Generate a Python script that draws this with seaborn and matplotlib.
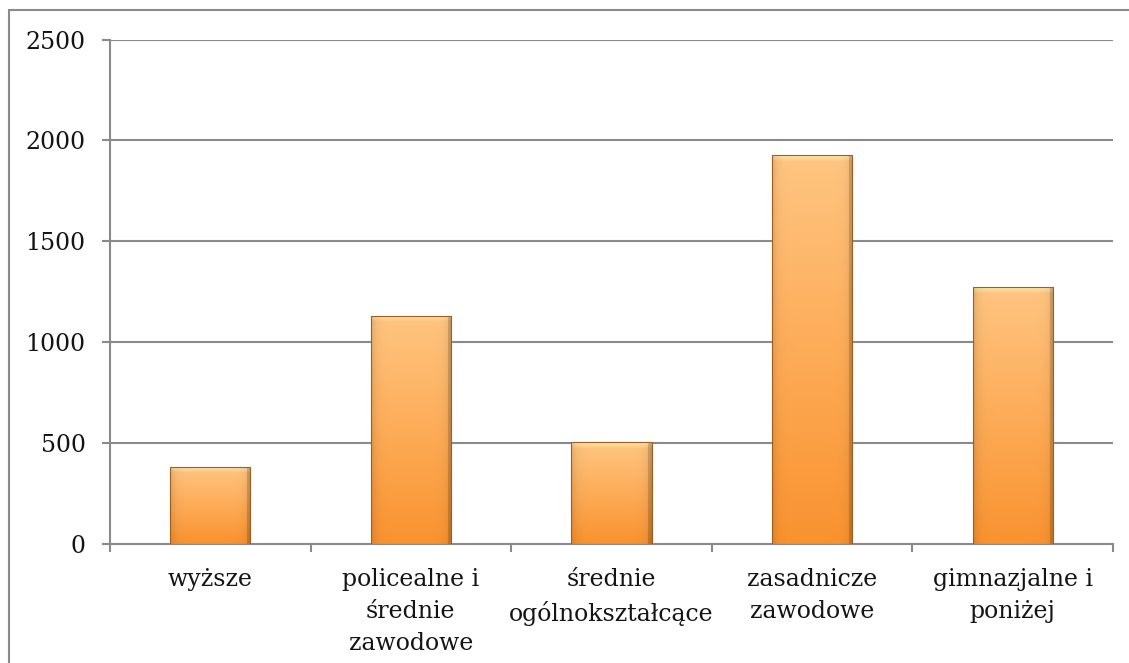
import matplotlib

matplotlib.use("Agg")

import matplotlib.pyplot as plt
import numpy as np
import pandas as pd
import seaborn as sns
from matplotlib.colors import LinearSegmentedColormap, to_rgb
from matplotlib.lines import Line2D

categories = [
    "wyższe",
    "policealne i\nśrednie\nzawodowe",
    "średnie\nogólnokształcące",
    "zasadnicze\nzawodowe",
    "gimnazjalne i\nponiżej",
]
values = [382, 1132, 503, 1927, 1272]
y_ticks = [0, 500, 1000, 1500, 2000, 2500]

GRID = "#8a8a8a"
TEXT = "#141414"

sns.set_theme(style="white")
plt.rcParams["font.family"] = ["DejaVu Serif"]

df = pd.DataFrame({"kategoria": categories, "liczba": values})

fig = plt.figure(figsize=(11.29, 6.63), dpi=100)
ax = fig.add_axes([0.0974, 0.1795, 0.8884, 0.7609])

sns.barplot(
    data=df,
    x="kategoria",
    y="liczba",
    color="#fba24a",
    width=0.4,
    edgecolor="#a35e1f",
    linewidth=0.8,
    ax=ax,
    zorder=3,
)

ax.set_xlim(-0.5, len(categories) - 0.5)
ax.set_ylim(0, 2500)

# orange vertical gradient inside each bar, light bevel at the top
cmap = LinearSegmentedColormap.from_list("bar", ["#f9922f", "#fdac58", "#ffc581"])
bevel = np.array(to_rgb("#fff0b4"))
px_per_unit = ax.bbox.height / 2500
cols = np.linspace(-1, 1, 80)
side = 1 - 0.12 * np.abs(cols) ** 8
side[-4:] *= 0.85
for patch in ax.patches:
    x0, y0 = patch.get_x(), patch.get_y()
    w, h = patch.get_width(), patch.get_height()
    rows = max(int(h * px_per_unit), 2)
    t = np.linspace(0, 1, rows)
    img = cmap(t)[:, :3]
    n_bev = min(7, rows)
    mix = np.linspace(0, 0.75, n_bev)[:, None]
    img[-n_bev:] = img[-n_bev:] * (1 - mix) + bevel * mix
    img = img[:, None, :] * side[None, :, None]
    im = ax.imshow(
        np.clip(img, 0, 1),
        extent=[x0, x0 + w, y0, y0 + h],
        origin="lower",
        aspect="auto",
        interpolation="bilinear",
        zorder=3.5,
    )
    im.set_clip_path(patch)
    patch.set_facecolor("none")
    patch.set_zorder(4)

ax.set_xlim(-0.5, len(categories) - 0.5)
ax.set_ylim(0, 2500)
ax.set_yticks(y_ticks)
ax.set_xlabel("")
ax.set_ylabel("")

for y in y_ticks[1:]:
    ax.axhline(y, color=GRID, linewidth=1.5, zorder=1)

for side_name in ["top", "right"]:
    ax.spines[side_name].set_visible(False)
for side_name in ["left", "bottom"]:
    ax.spines[side_name].set_color(GRID)
    ax.spines[side_name].set_linewidth(1.5)

ax.tick_params(axis="y", which="major", direction="out", length=5.5, width=1.5,
               color=GRID, labelsize=17, labelcolor=TEXT, pad=12, left=True)
ax.tick_params(axis="x", which="major", length=0, labelsize=17,
               labelcolor=TEXT, pad=17)
ax.set_xticks(np.arange(-0.5, len(categories)), minor=True)
ax.tick_params(axis="x", which="minor", direction="out", length=5.5,
               width=1.5, color=GRID, bottom=True)
for label in ax.get_xticklabels():
    label.set_linespacing(1.5)
    label.set_verticalalignment("top")

# outer chart border (top and left edges visible)
fig.add_artist(Line2D([0.0084, 1.0], [0.985, 0.985], transform=fig.transFigure,
                      color=GRID, linewidth=1.5))
fig.add_artist(Line2D([0.0084, 0.0084], [0.0, 0.985], transform=fig.transFigure,
                      color=GRID, linewidth=1.5))

fig.savefig("out.png", dpi=100)
